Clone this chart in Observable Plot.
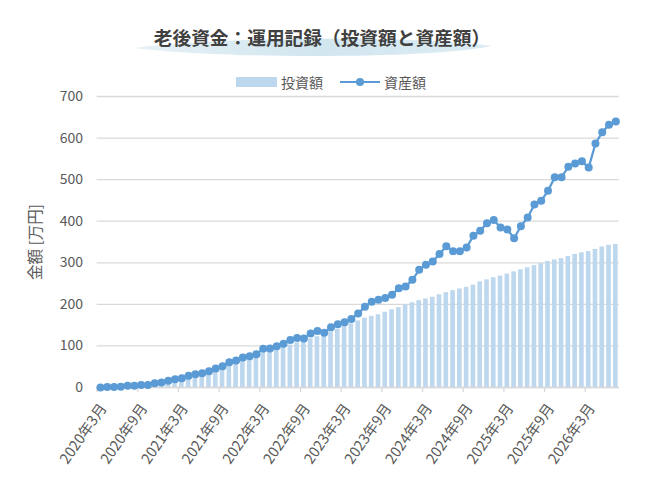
<!DOCTYPE html>
<html>
<head>
<meta charset="utf-8">
<script src="https://cdn.jsdelivr.net/npm/d3@7"></script>
<script src="https://cdn.jsdelivr.net/npm/@observablehq/plot@0.6"></script>
<style>
  body { margin: 0; background: #fff; font-family: "Noto Sans CJK JP", "Noto Sans", sans-serif; }
  #wrap { width: 651px; height: 491px; position: relative; overflow: hidden; }
  #head { position: relative; width: 651px; height: 86px; }
  #title { position: absolute; left: 0; top: 25px; width: 644px; text-align: center; font-size: 18.7px; font-weight: bold; color: #404040; line-height: 24px; }
  #legend { position: absolute; left: 236px; top: 72px; height: 20px; display: flex; align-items: center; font-size: 14px; color: #595959; }
  #legend span { margin-left: 4px; }
</style>
</head>
<body>
<div id="wrap">
  <div id="head">
    <svg width="651" height="86" style="position:absolute;left:0;top:0">
      <defs>
        <linearGradient id="sw" x1="0" x2="1" y1="0" y2="0">
          <stop offset="0" stop-color="#e6f1f6"/>
          <stop offset="0.5" stop-color="#d2e6ef"/>
          <stop offset="1" stop-color="#dcecf4"/>
        </linearGradient>
      </defs>
      <path d="M135,48 C210,37 420,35 492,46 C430,59 220,59 135,48 Z" fill="url(#sw)"/>
    </svg>
    <div id="title">老後資金：運用記録（投資額と資産額）</div>
    <div id="legend">
      <svg width="41" height="10"><rect x="0" y="0" width="41" height="10" fill="#bdd7ee"/></svg>
      <span>投資額</span>
      <svg width="40" height="10" style="margin-left:17px"><line x1="0" x2="40" y1="5" y2="5" stroke="#5b9bd5" stroke-width="2"/><circle cx="20" cy="5" r="4" fill="#5b9bd5"/></svg>
      <span>資産額</span>
    </div>
  </div>
  <div id="chart"></div>
</div>
<script>
const months = [
  "2020年3月","2020年4月","2020年5月","2020年6月","2020年7月","2020年8月","2020年9月","2020年10月","2020年11月","2020年12月",
  "2021年1月","2021年2月","2021年3月","2021年4月","2021年5月","2021年6月","2021年7月","2021年8月","2021年9月","2021年10月","2021年11月","2021年12月",
  "2022年1月","2022年2月","2022年3月","2022年4月","2022年5月","2022年6月","2022年7月","2022年8月","2022年9月","2022年10月","2022年11月","2022年12月",
  "2023年1月","2023年2月","2023年3月","2023年4月","2023年5月","2023年6月","2023年7月","2023年8月","2023年9月","2023年10月","2023年11月","2023年12月",
  "2024年1月","2024年2月","2024年3月","2024年4月","2024年5月","2024年6月","2024年7月","2024年8月","2024年9月","2024年10月","2024年11月","2024年12月",
  "2025年1月","2025年2月","2025年3月","2025年4月","2025年5月","2025年6月","2025年7月","2025年8月","2025年9月","2025年10月","2025年11月","2025年12月",
  "2026年1月","2026年2月","2026年3月","2026年4月","2026年5月","2026年6月","2026年7月"
];
const investment = [
  0,1,1,2,3,4,5,6,8,10,
  13,16,19,23,27,31,36,41,47,53,
  59,65,70,76,82,87,92,97,102,107,
  112,117,122,128,134,140,147,153,160,167,
  171,175,181,187,192,199,204,209,213,217,
  223,228,233,237,241,246,254,259,264,268,
  273,278,283,288,293,298,303,307,310,315,
  320,324,327,332,338,342,344
];
const assets = [
  0,1,1,2,4,4,6,6,10,12,
  16,20,22,28,32,34,39,46,51,61,
  65,72,75,80,93,94,99,105,114,119,
  118,130,136,132,145,152,157,165,178,194,
  206,211,215,223,239,243,259,283,295,303,
  321,340,328,328,337,365,377,395,403,385,
  380,359,388,409,440,449,473,506,506,531,
  539,544,529,587,614,632,640
];
const xTickLabels = ["2020年3月","2020年9月","2021年3月","2021年9月","2022年3月","2022年9月","2023年3月","2023年9月","2024年3月","2024年9月","2025年3月","2025年9月","2026年3月"];
const yTicks = [0,100,200,300,400,500,600,700];
const yLabel = "金額 [万円]";

const data = months.map((m, i) => ({m, inv: investment[i], asset: assets[i]}));

const W = 651, ML = 96.6, MR = 32.3;
const step = (W - ML - MR) / months.length;
const font = '"Noto Sans CJK JP", "Noto Sans", sans-serif';

const chart = Plot.plot({
  width: W,
  height: 405,
  marginTop: 10,
  marginBottom: 104,
  marginLeft: ML,
  marginRight: MR,
  style: {fontFamily: font, fontSize: "14px", color: "#595959", background: "transparent", overflow: "visible"},
  x: {type: "band", domain: months, paddingInner: 0.32, paddingOuter: 0.16},
  y: {domain: [0, 700]},
  marks: [
    Plot.gridY(yTicks, {stroke: "#d9d9d9", strokeOpacity: 1, strokeWidth: 1.3}),
    Plot.barY(data, {x: "m", y: "inv", fill: "#bdd7ee"}),
    Plot.ruleY([0], {stroke: "#d9d9d9", strokeWidth: 1.3}),
    Plot.axisX(xTickLabels, {tickSize: 5, stroke: "#d9d9d9", strokeWidth: 1.3, tickFormat: () => "", dx: -step / 2, label: null}),
    Plot.axisX(xTickLabels, {tickSize: 0, tickPadding: 18, tickRotate: -55, dx: 3, fill: "#595959", fontSize: 14.5, label: null}),
    Plot.axisY(yTicks, {tickSize: 0, tickPadding: 14, fill: "#595959", fontSize: 14, label: null}),
    Plot.line(data, {x: "m", y: "asset", stroke: "#5b9bd5", strokeWidth: 2.25}),
    Plot.dot(data, {x: "m", y: "asset", r: 4, fill: "#5b9bd5"}),
    Plot.text([yLabel], {frameAnchor: "left", dx: -61, rotate: -90, textAnchor: "middle", fill: "#595959", fontSize: 15.5, text: d => d})
  ]
});
document.getElementById("chart").appendChild(chart);
</script>
</body>
</html>
